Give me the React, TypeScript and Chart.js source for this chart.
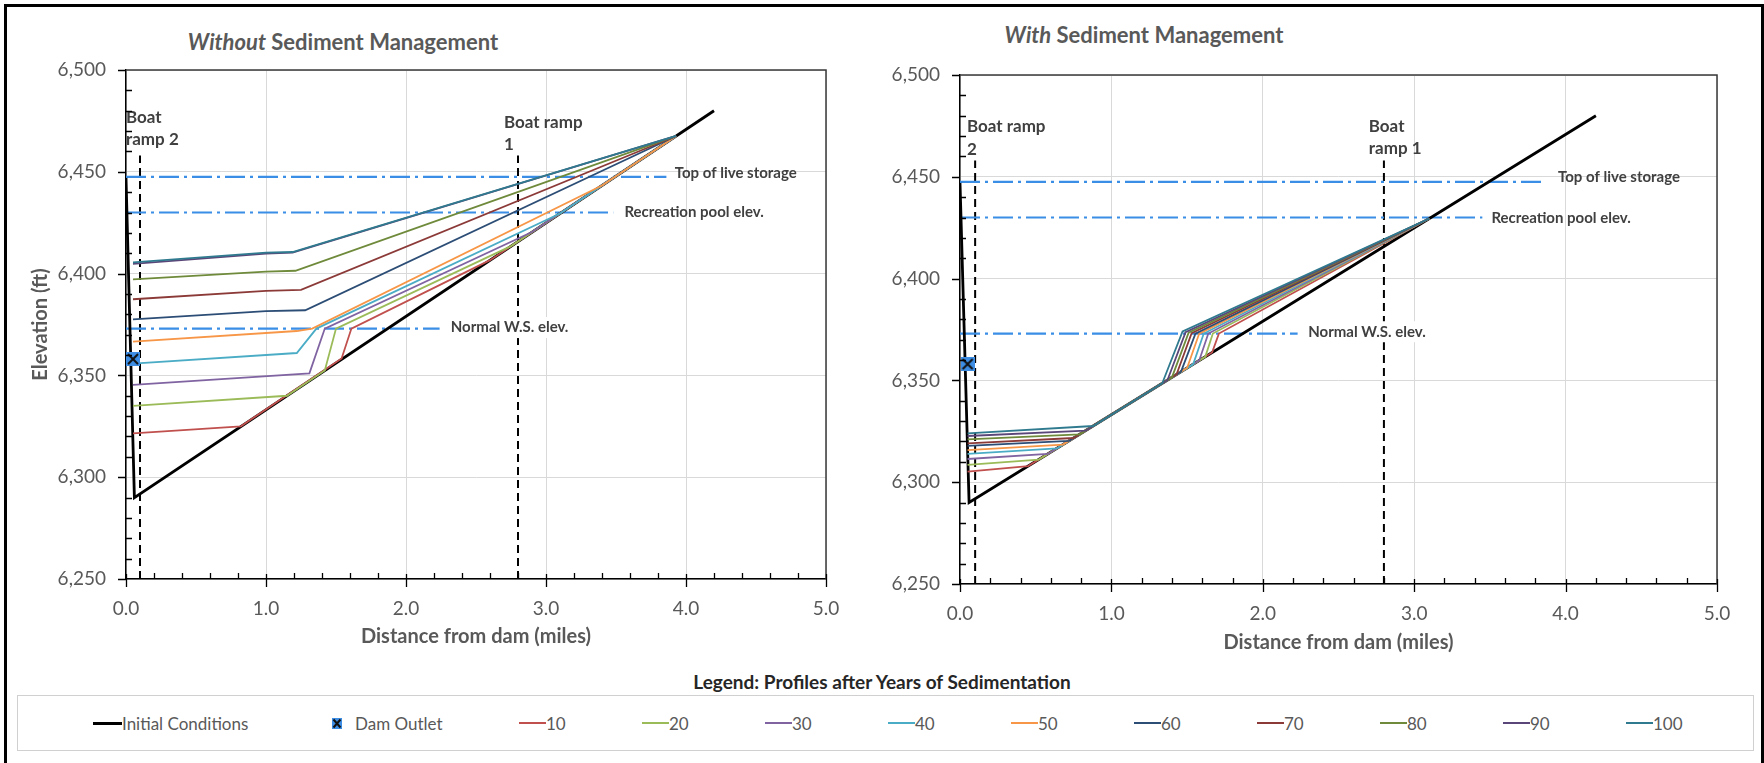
import React, { useEffect, useRef } from "react";
import { Chart, registerables } from "chart.js";

Chart.register(...registerables);

const FONT = "Lato, 'Noto Sans', sans-serif";
const GRAY = "#595959";
const LABEL = "#404040";
const BLUE = "#3A8EE6";

// ---------- tick labels ----------
const xTickLabels = ["0.0", "1.0", "2.0", "3.0", "4.0", "5.0"];
const yTickLabels = ["6,250", "6,300", "6,350", "6,400", "6,450", "6,500"];

// ---------- series names & colours ----------
const years = ["10", "20", "30", "40", "50", "60", "70", "80", "90", "100"];
const yearColors = ["#C0504D", "#9BBB59", "#8064A2", "#4BACC6", "#F79646", "#2C4D75", "#8B3A38", "#6E8A3A", "#5A4678", "#2F7A8E"];

// ---------- shared series ----------
const initialX = [0.0, 0.06, 4.2];
const initialY = [6447, 6290, 6480];
const damOutletX = [0.05];
const damOutletY = [6358];

const topLiveStorage = 6447.5;
const recreationPool = 6430;
const normalWS = 6373;
const rampX = [0.1, 2.8];
const rampY = [6250, 6458];

// ---------- Without sediment management ----------
const wo10X = [0.05, 0.82, 1.54, 1.61, 2.6, 3.93];
const wo10Y = [6321.5, 6325.0, 6358.3, 6373.0, 6406.6, 6467.6];
const wo20X = [0.05, 1.15, 1.42, 1.5, 2.75, 3.93];
const wo20Y = [6335.0, 6340.0, 6352.4, 6373.0, 6413.5, 6467.6];
const wo30X = [0.05, 1.31, 1.42, 2.9, 3.93];
const wo30Y = [6345.3, 6351.0, 6373.0, 6420.4, 6467.6];
const wo40X = [0.05, 1.22, 1.36, 3.1, 3.93];
const wo40Y = [6355.8, 6361.0, 6373.0, 6429.5, 6467.6];
const wo50X = [0.05, 1.22, 1.33, 3.4, 3.93];
const wo50Y = [6366.6, 6371.8, 6373.0, 6443.3, 6467.6];
const wo60X = [0.05, 1.0, 1.28, 3.93];
const wo60Y = [6377.5, 6381.6, 6382.0, 6467.6];
const wo70X = [0.05, 1.0, 1.25, 3.93];
const wo70Y = [6387.4, 6391.5, 6392.0, 6467.6];
const wo80X = [0.05, 1.0, 1.21, 3.93];
const wo80Y = [6397.2, 6401.0, 6401.4, 6467.6];
const wo90X = [0.05, 1.0, 1.19, 3.93];
const wo90Y = [6404.8, 6409.8, 6410.3, 6467.6];
const wo100X = [0.05, 1.0, 1.19, 3.93];
const wo100Y = [6405.5, 6410.3, 6410.6, 6467.6];

// ---------- With sediment management ----------
const w10X = [0.05, 0.45, 1.665, 1.71, 3.1];
const w10Y = [6305.2, 6307.9, 6363.7, 6373.0, 6429.5];
const w20X = [0.05, 0.52, 1.62, 1.67, 3.1];
const w20Y = [6308.5, 6311.1, 6361.6, 6373.0, 6429.5];
const w30X = [0.05, 0.58, 1.58, 1.64, 3.1];
const w30Y = [6311.4, 6313.9, 6359.8, 6373.0, 6429.5];
const w40X = [0.05, 0.64, 1.54, 1.61, 3.1];
const w40Y = [6313.9, 6316.6, 6357.9, 6373.0, 6429.5];
const w50X = [0.05, 0.68, 1.5, 1.58, 3.1];
const w50Y = [6315.8, 6318.5, 6356.1, 6373.0, 6429.5];
const w60X = [0.05, 0.72, 1.46, 1.555, 3.1];
const w60Y = [6317.8, 6320.3, 6354.3, 6373.0, 6429.5];
const w70X = [0.05, 0.75, 1.43, 1.53, 3.1];
const w70Y = [6319.1, 6321.7, 6352.9, 6373.2, 6429.5];
const w80X = [0.05, 0.79, 1.4, 1.51, 3.1];
const w80Y = [6321.0, 6323.5, 6351.5, 6373.4, 6429.5];
const w90X = [0.05, 0.83, 1.37, 1.49, 3.1];
const w90Y = [6322.7, 6325.3, 6350.1, 6373.7, 6429.5];
const w100X = [0.05, 0.88, 1.336, 1.47, 3.1];
const w100Y = [6324.0, 6327.6, 6348.6, 6374.0, 6429.5];

const withoutX = [wo10X, wo20X, wo30X, wo40X, wo50X, wo60X, wo70X, wo80X, wo90X, wo100X];
const withoutY = [wo10Y, wo20Y, wo30Y, wo40Y, wo50Y, wo60Y, wo70Y, wo80Y, wo90Y, wo100Y];
const withX = [w10X, w20X, w30X, w40X, w50X, w60X, w70X, w80X, w90X, w100X];
const withY = [w10Y, w20Y, w30Y, w40Y, w50Y, w60Y, w70Y, w80Y, w90Y, w100Y];

// reference-line extents [top of live storage, recreation pool, normal W.S.]
const withoutRefEnds = [3.86, 3.48, 2.24];
const withRefEnds = [3.84, 3.45, 2.23];

type Note = { lines: string[]; x: number; y: number; size: number; lh: number; bg?: boolean };

const withoutNotes: Note[] = [
  { lines: ["Boat", "ramp 2"], x: 0.0, y: 6476.9, size: 17, lh: 22 },
  { lines: ["Boat ramp", "1"], x: 2.7, y: 6474, size: 17, lh: 22 },
  { lines: ["Top of live storage"], x: 3.92, y: 6449.4, size: 15, lh: 18 },
  { lines: ["Recreation pool elev."], x: 3.56, y: 6430, size: 15, lh: 18 },
  { lines: ["Normal W.S. elev."], x: 2.32, y: 6373.5, size: 15, lh: 18, bg: true },
];
const withNotes: Note[] = [
  { lines: ["Boat ramp", "2"], x: 0.046, y: 6474.5, size: 17, lh: 22.5 },
  { lines: ["Boat", "ramp 1"], x: 2.7, y: 6474.5, size: 17, lh: 22 },
  { lines: ["Top of live storage"], x: 3.95, y: 6450, size: 15, lh: 18 },
  { lines: ["Recreation pool elev."], x: 3.51, y: 6429.8, size: 15, lh: 18 },
  { lines: ["Normal W.S. elev."], x: 2.3, y: 6373.9, size: 15, lh: 18, bg: true },
];

function pts(xs: number[], ys: number[]) {
  return xs.map((x, i) => ({ x, y: ys[i] }));
}

function makeMarker(size: number) {
  const c = document.createElement("canvas");
  c.width = size;
  c.height = size;
  const g = c.getContext("2d")!;
  g.fillStyle = "#3C8DE3";
  g.fillRect(0, 0, size, size);
  g.strokeStyle = "#111";
  g.lineWidth = 2;
  g.beginPath();
  g.moveTo(2, 2);
  g.lineTo(size - 2, size - 2);
  g.moveTo(size - 2, 2);
  g.lineTo(2, size - 2);
  g.stroke();
  return c;
}

function notesPlugin(notes: Note[]) {
  return {
    id: "notes",
    afterDatasetsDraw(chart: any) {
      const { ctx } = chart;
      const xs = chart.scales.x;
      const ys = chart.scales.y;
      ctx.save();
      for (const n of notes) {
        ctx.font = `bold ${n.size}px ${FONT}`;
        ctx.textBaseline = "middle";
        ctx.textAlign = "left";
        const px = xs.getPixelForValue(n.x);
        const py = ys.getPixelForValue(n.y);
        n.lines.forEach((t, i) => {
          const yy = py + i * n.lh;
          if (n.bg) {
            const w = ctx.measureText(t).width;
            ctx.fillStyle = "#fff";
            ctx.fillRect(px - 3, yy - n.size * 0.7, w + 6, n.size * 1.4);
          }
          ctx.fillStyle = LABEL;
          ctx.fillText(t, px, yy);
        });
      }
      ctx.restore();
    },
  };
}

const frameTicksPlugin = {
  id: "frameTicks",
  afterDraw(chart: any) {
    const { ctx, chartArea: a } = chart;
    const xs = chart.scales.x;
    const ys = chart.scales.y;
    ctx.save();
    ctx.strokeStyle = "#3a3a3a";
    ctx.lineWidth = 1.5;
    ctx.beginPath();
    ctx.moveTo(a.left, a.top);
    ctx.lineTo(a.right, a.top);
    ctx.lineTo(a.right, a.bottom);
    ctx.stroke();
    ctx.strokeStyle = "#000";
    ctx.lineWidth = 1.3;
    ctx.beginPath();
    // x ticks: minor every 0.2 (inside), major every 1.0 (crossing)
    for (let k = 0; k <= 25; k++) {
      const px = Math.round(xs.getPixelForValue(k * 0.2)) + 0.5;
      if (k % 5 === 0) {
        ctx.moveTo(px, a.bottom - 5);
        ctx.lineTo(px, a.bottom + 8);
      } else {
        ctx.moveTo(px, a.bottom - 6);
        ctx.lineTo(px, a.bottom);
      }
    }
    // y ticks: minor every 10 (inside), major every 50 (outside)
    for (let k = 0; k <= 25; k++) {
      const py = Math.round(ys.getPixelForValue(6250 + k * 10)) + 0.5;
      if (k % 5 === 0) {
        ctx.moveTo(a.left - 8, py);
        ctx.lineTo(a.left, py);
      } else {
        ctx.moveTo(a.left, py);
        ctx.lineTo(a.left + 6, py);
      }
    }
    ctx.stroke();
    ctx.restore();
  },
};

type Side = {
  profX: number[][];
  profY: number[][];
  refEnds: number[];
  notes: Note[];
  yAxisWidth: number;
  xAxisHeight: number;
  padTop: number;
  padRight: number;
  yTitle: boolean;
  xTitlePad: number;
};

function buildConfig(s: Side, marker: HTMLCanvasElement): any {
  const datasets: any[] = [];
  datasets.push({
    label: "Dam Outlet",
    data: pts(damOutletX, damOutletY),
    showLine: false,
    pointStyle: marker,
    pointRadius: 7,
    borderColor: "transparent",
    backgroundColor: "transparent",
  });
  for (let i = years.length - 1; i >= 0; i--) {
    datasets.push({
      label: years[i],
      data: pts(s.profX[i], s.profY[i]),
      showLine: true,
      borderColor: yearColors[i],
      borderWidth: 1.8,
      pointRadius: 0,
    });
  }
  datasets.push({
    label: "Initial Conditions",
    data: pts(initialX, initialY),
    showLine: true,
    borderColor: "#000",
    borderWidth: 2.8,
    pointRadius: 0,
  });
  const levels = [topLiveStorage, recreationPool, normalWS];
  levels.forEach((lv, i) => {
    datasets.push({
      label: "ref" + i,
      data: pts([0, s.refEnds[i]], [lv, lv]),
      showLine: true,
      borderColor: BLUE,
      borderWidth: 2.2,
      borderDash: [20, 5, 3, 5],
      pointRadius: 0,
    });
  });
  rampX.forEach((rx, i) => {
    datasets.push({
      label: "ramp" + i,
      data: pts([rx, rx], rampY),
      showLine: true,
      borderColor: "#000",
      borderWidth: 2,
      borderDash: [8, 5],
      pointRadius: 0,
    });
  });

  return {
    type: "scatter",
    data: { datasets },
    options: {
      responsive: false,
      animation: false,
      devicePixelRatio: 1,
      events: [],
      layout: { padding: { top: s.padTop, right: s.padRight, left: 0, bottom: 0 } },
      plugins: { legend: { display: false }, tooltip: { enabled: false }, title: { display: false } },
      elements: { point: { radius: 0, hoverRadius: 0 }, line: { tension: 0, fill: false } },
      scales: {
        x: {
          type: "linear",
          min: 0,
          max: 5,
          afterFit: (sc: any) => {
            sc.height = s.xAxisHeight;
          },
          ticks: {
            stepSize: 1,
            color: GRAY,
            font: { family: FONT, size: 19 },
            padding: 18,
            maxRotation: 0,
            callback: (_v: any, i: number) => xTickLabels[i],
          },
          grid: { color: "#d9d9d9", lineWidth: 1, drawTicks: false },
          border: { display: true, color: "#000", width: 1.5 },
          title: {
            display: true,
            text: "Distance from dam (miles)",
            color: GRAY,
            font: { family: FONT, size: 20, weight: "bold" },
            padding: { top: 0, bottom: s.xTitlePad },
          },
        },
        y: {
          type: "linear",
          min: 6250,
          max: 6500,
          afterFit: (sc: any) => {
            sc.width = s.yAxisWidth;
          },
          ticks: {
            stepSize: 50,
            color: GRAY,
            font: { family: FONT, size: 19 },
            padding: 20,
            callback: (_v: any, i: number) => yTickLabels[i],
          },
          grid: { color: "#d9d9d9", lineWidth: 1, drawTicks: false },
          border: { display: true, color: "#000", width: 1.5 },
          title: {
            display: s.yTitle,
            text: "Elevation (ft)",
            color: GRAY,
            font: { family: FONT, size: 20, weight: "bold" },
            padding: { top: 29, bottom: 0 },
          },
        },
      },
    },
    plugins: [notesPlugin(s.notes), frameTicksPlugin],
  };
}

function LegendLine({ left, color, text }: { left: number; color: string; text: string }) {
  return (
    <div style={{ position: "absolute", left, top: 711, height: 24, display: "flex", alignItems: "center", whiteSpace: "nowrap" }}>
      <div style={{ width: 27, height: 2.5, background: color }} />
      <span style={{ fontSize: 17, color: GRAY }}>{text}</span>
    </div>
  );
}

export default function App() {
  const leftRef = useRef<HTMLCanvasElement>(null);
  const rightRef = useRef<HTMLCanvasElement>(null);

  useEffect(() => {
    const marker = makeMarker(14);
    const c1 = new Chart(
      leftRef.current!,
      buildConfig(
        {
          profX: withoutX,
          profY: withoutY,
          refEnds: withoutRefEnds,
          notes: withoutNotes,
          yAxisWidth: 126,
          xAxisHeight: 81,
          padTop: 70,
          padRight: 54,
          yTitle: true,
          xTitlePad: 11,
        },
        marker
      )
    );
    const c2 = new Chart(
      rightRef.current!,
      buildConfig(
        {
          profX: withX,
          profY: withY,
          refEnds: withRefEnds,
          notes: withNotes,
          yAxisWidth: 80,
          xAxisHeight: 76,
          padTop: 75,
          padRight: 47,
          yTitle: false,
          xTitlePad: 5,
        },
        marker
      )
    );
    return () => {
      c1.destroy();
      c2.destroy();
    };
  }, []);

  return (
    <div
      style={{
        position: "fixed",
        left: 0,
        top: 0,
        width: 1764,
        height: 763,
        background: "#fff",
        overflow: "hidden",
        fontFamily: FONT,
      }}
    >
      <div
        style={{
          position: "absolute",
          left: 4,
          top: 4,
          width: 1760,
          height: 820,
          border: "3px solid #000",
          boxSizing: "border-box",
        }}
      />
      <div
        style={{
          position: "absolute",
          left: 143,
          width: 400,
          top: 28,
          lineHeight: "28px",
          textAlign: "center",
          fontSize: 22,
          fontWeight: 700,
          color: GRAY,
        }}
      >
        <i>Without</i> Sediment Management
      </div>
      <div
        style={{
          position: "absolute",
          left: 944,
          width: 400,
          top: 21,
          lineHeight: "28px",
          textAlign: "center",
          fontSize: 22,
          fontWeight: 700,
          color: GRAY,
        }}
      >
        <i>With</i> Sediment Management
      </div>
      <canvas
        ref={leftRef}
        width={880}
        height={660}
        style={{ position: "absolute", left: 0, top: 0, width: 880, height: 660 }}
      />
      <canvas
        ref={rightRef}
        width={884}
        height={660}
        style={{ position: "absolute", left: 880, top: 0, width: 884, height: 660 }}
      />
      <div
        style={{
          position: "absolute",
          left: 582,
          width: 600,
          top: 671,
          lineHeight: "22px",
          textAlign: "center",
          fontSize: 19,
          fontWeight: 700,
          color: "#262626",
        }}
      >
        Legend: Profiles after Years of Sedimentation
      </div>
      <div
        style={{
          position: "absolute",
          left: 17,
          top: 695,
          width: 1737,
          height: 56,
          border: "1.5px solid #d0d0d0",
          boxSizing: "border-box",
        }}
      />
      <div style={{ position: "absolute", left: 93, top: 711, height: 24, display: "flex", alignItems: "center", whiteSpace: "nowrap" }}>
        <div style={{ width: 29, height: 3, background: "#000" }} />
        <span style={{ fontSize: 17, color: GRAY }}>Initial Conditions</span>
      </div>
      <div style={{ position: "absolute", left: 332, top: 711, height: 24, display: "flex", alignItems: "center", whiteSpace: "nowrap" }}>
        <svg width={10} height={11} style={{ marginRight: 13 }}>
          <rect x={0} y={0} width={10} height={11} fill="#3C8DE3" />
          <path d="M1.5 1.5 L8.5 9.5 M8.5 1.5 L1.5 9.5" stroke="#111" strokeWidth={2} />
        </svg>
        <span style={{ fontSize: 17, color: GRAY }}>Dam Outlet</span>
      </div>
      {years.map((y, i) => (
        <LegendLine key={y} left={519 + 123 * i} color={yearColors[i]} text={y} />
      ))}
    </div>
  );
}
